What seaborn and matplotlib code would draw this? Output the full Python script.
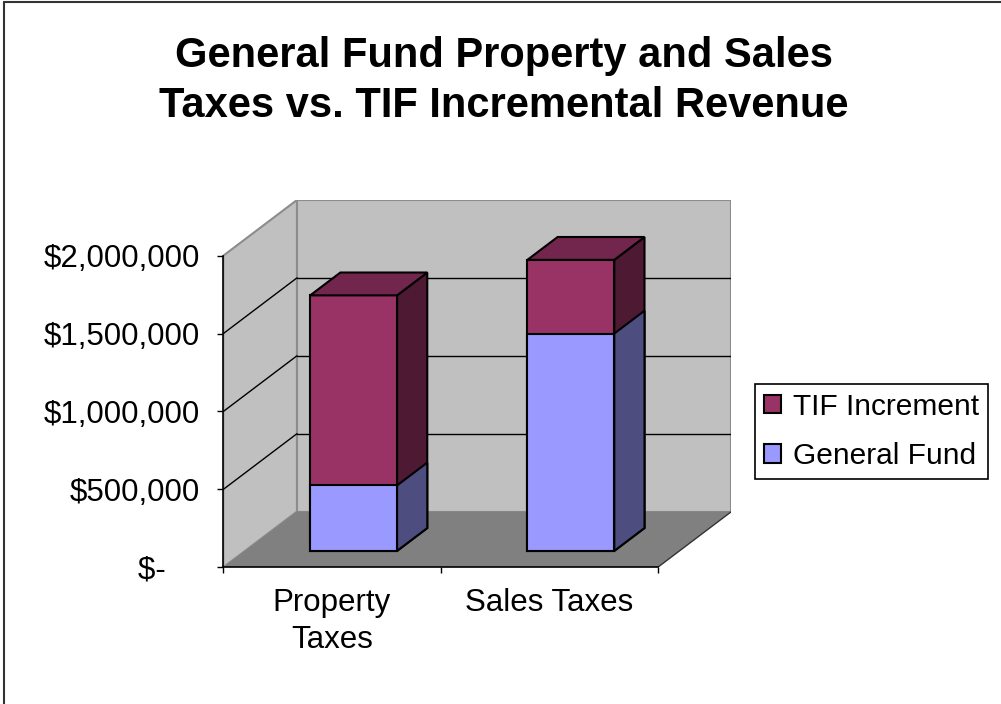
import textwrap

import numpy as np
import pandas as pd
import seaborn as sns
import matplotlib.pyplot as plt
import matplotlib.transforms as mtransforms
from matplotlib.patches import Polygon
from matplotlib.lines import Line2D

# Data
categories = ["Property Taxes", "Sales Taxes"]
general_fund = [420000, 1395000]
tif_increment = [1220000, 473000]
series_names = ["TIF Increment", "General Fund"]
y_ticks = [0, 500000, 1000000, 1500000, 2000000]
y_tick_labels = ["$-    ", "$500,000", "$1,000,000", "$1,500,000", "$2,000,000"]
title = "General Fund Property and Sales\nTaxes vs. TIF Incremental Revenue"

df = pd.DataFrame({
    "category": categories,
    "general_fund": general_fund,
    "tif_increment": tif_increment,
})
df["total"] = df["general_fund"] + df["tif_increment"]

# colours (excel 2003 style 3d chart)
tif_col, tif_side, tif_top = "#993366", "#4D1933", "#73264D"
gf_col, gf_side = "#9999FF", "#4D4D80"
wall_col, floor_col, wall_edge = "#C0C0C0", "#808080", "#8C8C8C"

sns.set_style("white")
plt.rcParams["font.family"] = ["Liberation Sans", "DejaVu Sans"]
plt.rcParams["text.color"] = "black"
plt.rcParams["xtick.color"] = "black"
plt.rcParams["ytick.color"] = "black"

# 3d geometry: depth of the floor and of the bars
y_max = 2000000
DX, DY = 0.339, 357500
bar_depth = 0.41
front = (1 - bar_depth) / 2
x0, x1 = -0.5, len(categories) - 0.5

fig = plt.figure(figsize=(10.01, 7.04), dpi=100)
ax = fig.add_axes([223.3 / 1001, (704 - 567.3) / 704, 508.1 / 1001, 367.3 / 704])
ax.set_facecolor("none")

# walls and floor
ax.add_patch(Polygon([(x0 + DX, DY), (x1 + DX, DY), (x1 + DX, y_max + DY), (x0 + DX, y_max + DY)],
                     fc=wall_col, ec=wall_edge, lw=1.5, zorder=0))
ax.add_patch(Polygon([(x0, 0), (x0 + DX, DY), (x0 + DX, y_max + DY), (x0, y_max)],
                     fc=wall_col, ec=wall_edge, lw=1.5, zorder=0))
ax.add_patch(Polygon([(x0, 0), (x1, 0), (x1 + DX, DY), (x0 + DX, DY)],
                     fc=floor_col, ec="none", zorder=0.5))
ax.plot([x1, x1 + DX], [0, DY], color="#333333", lw=1, zorder=0.6)

# gridlines on back wall + left wall
for v in y_ticks[1:-1]:
    ax.plot([x0 + DX, x1 + DX], [v + DY, v + DY], color="black", lw=1, zorder=1)
    ax.plot([x0, x0 + DX], [v, v + DY], color="black", lw=1, zorder=1)

# front faces of the stacked bars
sns.barplot(data=df, x="category", y="total", color=tif_col, saturation=1, width=0.4,
            edgecolor="black", linewidth=1.5, ax=ax)
sns.barplot(data=df, x="category", y="general_fund", color=gf_col, saturation=1, width=0.4,
            edgecolor="black", linewidth=1.5, ax=ax)

# push the bars back into the box and add side / top faces
shift = mtransforms.Affine2D().translate(front * DX, front * DY) + ax.transData
bdx, bdy = bar_depth * DX, bar_depth * DY
for k, (cont, side_col) in enumerate([(ax.containers[0], tif_side), (ax.containers[1], gf_side)]):
    for p in cont.patches:
        p.set_transform(shift)
        p.set_zorder(3)
        x, w = p.get_x(), p.get_width()
        y0, h = p.get_y(), p.get_height()
        side = Polygon([(x + w, y0), (x + w + bdx, y0 + bdy), (x + w + bdx, y0 + h + bdy), (x + w, y0 + h)],
                       fc=side_col, ec="black", lw=1.5, joinstyle="miter", zorder=3 + k * 0.1,
                       transform=shift)
        ax.add_patch(side)
        if k == 0:
            top = Polygon([(x, y0 + h), (x + w, y0 + h), (x + w + bdx, y0 + h + bdy), (x + bdx, y0 + h + bdy)],
                          fc=tif_top, ec="black", lw=1.5, joinstyle="miter", zorder=3,
                          transform=shift)
            ax.add_patch(top)

ax.set_xlim(x0, x1 + DX)
ax.set_ylim(0, y_max + DY)
ax.set_xlabel("")
ax.set_ylabel("")

# axes
for s in ["top", "right"]:
    ax.spines[s].set_visible(False)
ax.spines["left"].set_bounds(0, y_max)
ax.spines["bottom"].set_bounds(x0, x1)
for s in ["left", "bottom"]:
    ax.spines[s].set_color("black")
    ax.spines[s].set_linewidth(1.2)
    ax.spines[s].set_zorder(5)

ax.set_yticks(y_ticks, labels=y_tick_labels)
ax.tick_params(axis="y", length=4.3, width=1, pad=12.5, labelsize=22.5, color="black",
               labelcolor="black", left=True)
ax.set_xticks(np.arange(len(categories) + 1) - 0.5, labels=[""] * (len(categories) + 1))
ax.set_xticks(range(len(categories)), labels=[textwrap.fill(c, 11) for c in categories], minor=True)
ax.tick_params(axis="x", which="major", length=4.3, width=1, color="black", bottom=True)
ax.tick_params(axis="x", which="minor", length=0, pad=15, labelsize=22.5, labelcolor="black")
for lbl in ax.get_xticklabels(minor=True):
    lbl.set_linespacing(1.3)

# legend
leg = ax.legend(handles=[ax.containers[0], ax.containers[1]], labels=series_names,
                loc="center left", bbox_to_anchor=(755 / 1001, 1 - 431.3 / 704),
                bbox_transform=fig.transFigure, fontsize=21.5, frameon=True, fancybox=False,
                edgecolor="black", framealpha=1, borderaxespad=0, borderpad=0.3,
                handlelength=0.58, handleheight=0.58, handletextpad=0.4, labelspacing=0.72)
leg.get_frame().set_linewidth(1.2)
for t in leg.get_texts():
    t.set_color("black")

fig.suptitle(title, x=504 / 1001, y=1 - 36 / 704, va="top", fontsize=30, fontweight="bold",
             linespacing=1.33, color="black")

# chart area border (top and left edges visible in the reference)
fig.add_artist(Line2D([3.5 / 1001, 3.5 / 1001], [0, 1 - 1.5 / 704], color="#333333", lw=1.5))
fig.add_artist(Line2D([3.5 / 1001, 1], [1 - 1.5 / 704, 1 - 1.5 / 704], color="#333333", lw=1.5))

plt.savefig("out.png", dpi=100)
